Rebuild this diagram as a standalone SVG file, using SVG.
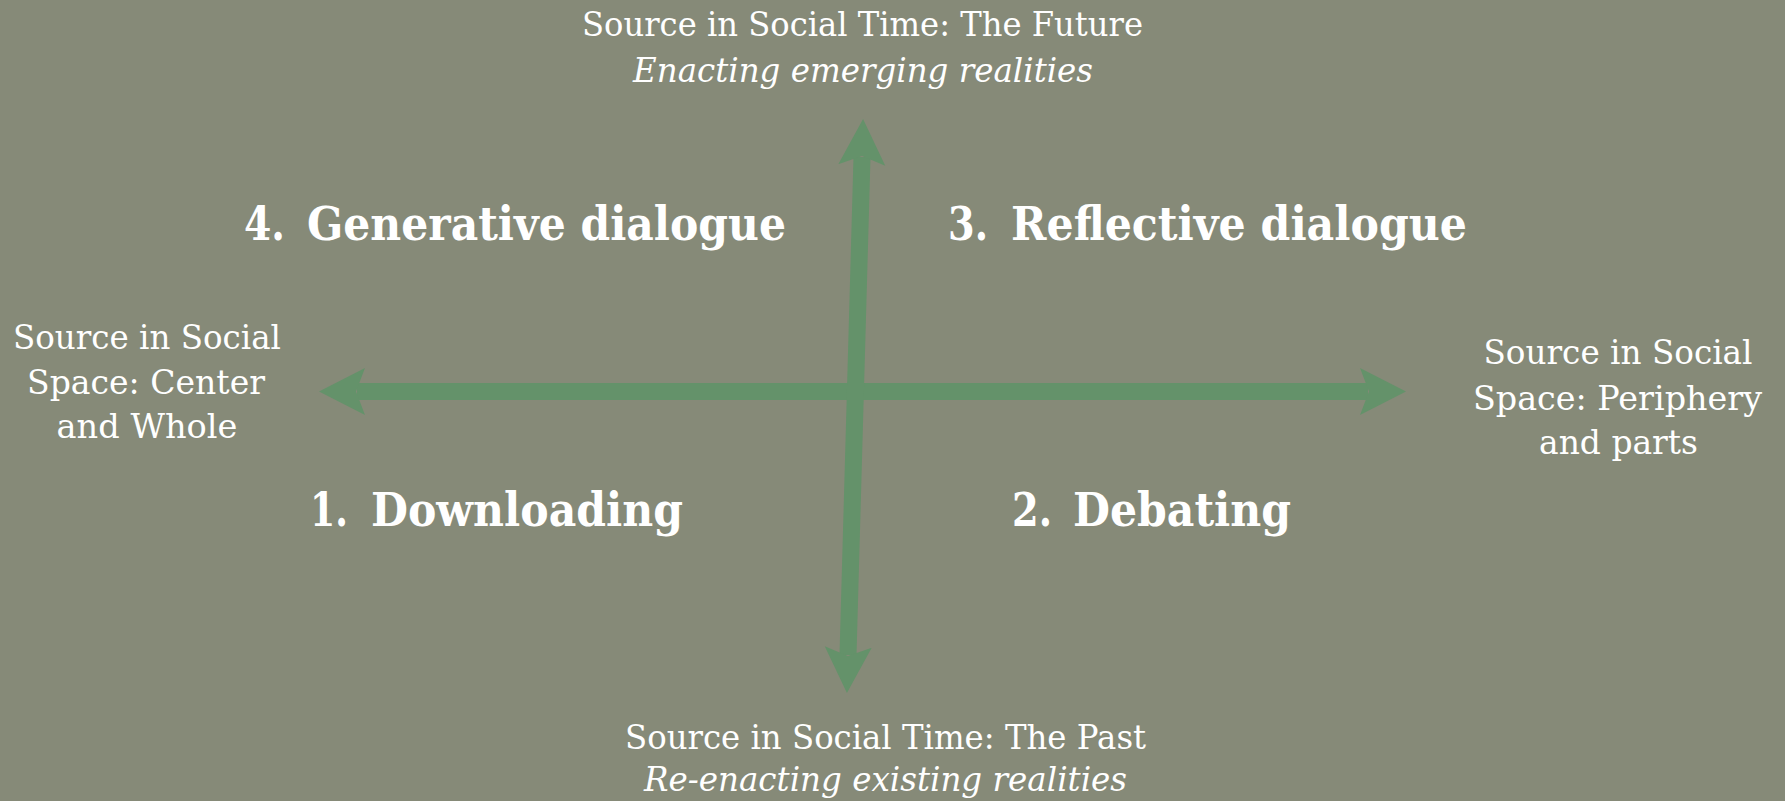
<svg xmlns="http://www.w3.org/2000/svg" width="1785" height="801" viewBox="0 0 1785 801">
<defs>
<style>
.lbl{font-family:"DejaVu Serif","Liberation Serif",serif;font-size:34px;fill:#ffffff;text-anchor:middle}
.it{font-style:italic}
.q{font-family:"DejaVu Serif","Liberation Serif",serif;font-size:47px;font-weight:bold;fill:#ffffff}
.axis{stroke:#64926a;stroke-width:17;fill:none}
</style>
<marker id="ah" markerUnits="userSpaceOnUse" markerWidth="48" markerHeight="48" viewBox="0 0 48 48" refX="8" refY="24" orient="auto-start-reverse">
<path d="M0,0.5 L46,24 L0,47.5 L9,24 Z" fill="#64926a"/>
</marker>
</defs>
<rect width="1785" height="801" fill="#868a78"/>
<g id="connectors">
<line class="axis" x1="357" y1="391.5" x2="1368" y2="391.5" marker-start="url(#ah)" marker-end="url(#ah)"/>
<line class="axis" x1="862" y1="157" x2="848" y2="655" marker-start="url(#ah)" marker-end="url(#ah)"/>
</g>
<g id="top-label">
<text class="lbl" x="862.5" y="36" textLength="561" lengthAdjust="spacingAndGlyphs">Source in Social Time: The Future</text>
<text class="lbl it" x="863" y="82" textLength="460" lengthAdjust="spacingAndGlyphs">Enacting emerging realities</text>
</g>
<g id="bottom-label">
<text class="lbl" x="885.5" y="749" textLength="521" lengthAdjust="spacingAndGlyphs">Source in Social Time: The Past</text>
<text class="lbl it" x="885.5" y="791" textLength="483" lengthAdjust="spacingAndGlyphs">Re-enacting existing realities</text>
</g>
<g id="left-label">
<text class="lbl" x="147" y="349" textLength="268" lengthAdjust="spacingAndGlyphs">Source in Social</text>
<text class="lbl" x="146" y="394" textLength="238" lengthAdjust="spacingAndGlyphs">Space: Center</text>
<text class="lbl" x="147" y="438" textLength="181" lengthAdjust="spacingAndGlyphs">and Whole</text>
</g>
<g id="right-label">
<text class="lbl" x="1618" y="364" textLength="269" lengthAdjust="spacingAndGlyphs">Source in Social</text>
<text class="lbl" x="1617.5" y="410" textLength="289" lengthAdjust="spacingAndGlyphs">Space: Periphery</text>
<text class="lbl" x="1618.5" y="454" textLength="159" lengthAdjust="spacingAndGlyphs">and parts</text>
</g>
<g id="q4">
<text class="q" y="240"><tspan x="244" textLength="41" lengthAdjust="spacingAndGlyphs">4.</tspan> <tspan x="307" textLength="479" lengthAdjust="spacingAndGlyphs">Generative dialogue</tspan></text>
</g>
<g id="q3">
<text class="q" y="240"><tspan x="948" textLength="40" lengthAdjust="spacingAndGlyphs">3.</tspan> <tspan x="1011" textLength="456" lengthAdjust="spacingAndGlyphs">Reflective dialogue</tspan></text>
</g>
<g id="q1">
<text class="q" y="526"><tspan x="310" textLength="38" lengthAdjust="spacingAndGlyphs">1.</tspan> <tspan x="371" textLength="312" lengthAdjust="spacingAndGlyphs">Downloading</tspan></text>
</g>
<g id="q2">
<text class="q" y="526"><tspan x="1012" textLength="40" lengthAdjust="spacingAndGlyphs">2.</tspan> <tspan x="1073" textLength="218" lengthAdjust="spacingAndGlyphs">Debating</tspan></text>
</g>
</svg>
